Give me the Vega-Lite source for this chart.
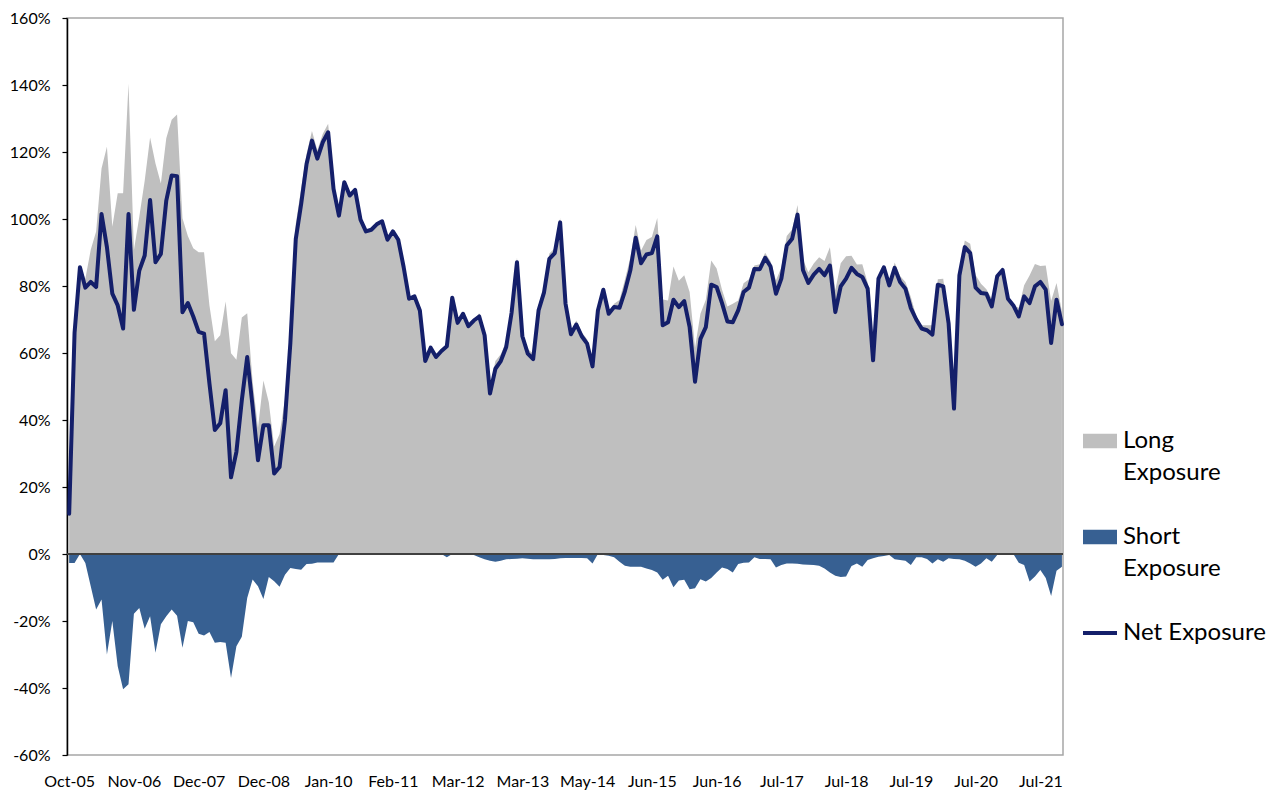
{
"$schema": "https://vega.github.io/schema/vega-lite/v6.json",
"autosize": {"type": "none"},
"padding": {"left": 67, "top": 18, "right": 211, "bottom": 35},
"width": 996,
"height": 737,
"background": "white",
"config": {"view": {"stroke": "#A6A6A6", "strokeWidth": 1.5}, "font": "Lato"},
"data": {"values": [
{"i":0,"long":14.7,"short":-2.7,"net":12.0},{"i":1,"long":68.7,"short":-2.7,"net":66.0},{"i":2,"long":85.6,"short":0,"net":85.6},{"i":3,"long":82.2,"short":-2.7,"net":79.5},{"i":4,"long":90.8,"short":-9.6,"net":81.2},{"i":5,"long":96.3,"short":-16.6,"net":79.7},{"i":6,"long":115.1,"short":-13.6,"net":101.5},{"i":7,"long":121.6,"short":-30,"net":91.6},{"i":8,"long":97.7,"short":-20,"net":77.7},{"i":9,"long":107.7,"short":-33.5,"net":74.2},
{"i":10,"long":107.7,"short":-40.4,"net":67.3},{"i":11,"long":140.4,"short":-38.9,"net":101.5},{"i":12,"long":90.7,"short":-17.8,"net":72.9},{"i":13,"long":100.7,"short":-16.1,"net":84.6},{"i":14,"long":111.4,"short":-22.3,"net":89.1},{"i":15,"long":124.3,"short":-18.6,"net":105.7},{"i":16,"long":116.6,"short":-29.5,"net":87.1},{"i":17,"long":110.6,"short":-21,"net":89.6},{"i":18,"long":124.1,"short":-18.6,"net":105.5},{"i":19,"long":129.6,"short":-16.6,"net":113.0},
{"i":20,"long":131.2,"short":-18.4,"net":112.8},{"i":21,"long":100.2,"short":-28,"net":72.2},{"i":22,"long":94.9,"short":-20,"net":74.9},{"i":23,"long":91.3,"short":-20.4,"net":70.9},{"i":24,"long":90.1,"short":-23.8,"net":66.3},{"i":25,"long":90.1,"short":-24.3,"net":65.8},{"i":26,"long":74.2,"short":-23.3,"net":50.9},{"i":27,"long":63.5,"short":-26.5,"net":37.0},{"i":28,"long":65.3,"short":-26.3,"net":39.0},{"i":29,"long":75.4,"short":-26.5,"net":48.9},
{"i":30,"long":59.9,"short":-37,"net":22.9},{"i":31,"long":58.0,"short":-27.5,"net":30.5},{"i":32,"long":70.6,"short":-24.7,"net":45.9},{"i":33,"long":71.9,"short":-13.1,"net":58.8},{"i":34,"long":51.6,"short":-7.6,"net":44.0},{"i":35,"long":37.6,"short":-9.6,"net":28.0},{"i":36,"long":51.8,"short":-13.4,"net":38.4},{"i":37,"long":45.3,"short":-6.9,"net":38.4},{"i":38,"long":32.1,"short":-8.1,"net":24.0},{"i":39,"long":35.8,"short":-9.8,"net":26.0},
{"i":40,"long":46.2,"short":-6.2,"net":40.0},{"i":41,"long":67.2,"short":-4.2,"net":63.0},{"i":42,"long":98.5,"short":-4.5,"net":94.0},{"i":43,"long":109.2,"short":-4.7,"net":104.5},{"i":44,"long":119.4,"short":-3,"net":116.4},{"i":45,"long":126.3,"short":-2.9,"net":123.4},{"i":46,"long":120.5,"short":-2.5,"net":118.0},{"i":47,"long":125.4,"short":-2.5,"net":122.9},{"i":48,"long":128.4,"short":-2.5,"net":125.9},{"i":49,"long":111.5,"short":-2.5,"net":109.0},
{"i":50,"long":101.0,"short":0,"net":101.0},{"i":51,"long":111.0,"short":0,"net":111.0},{"i":52,"long":107.0,"short":0,"net":107.0},{"i":53,"long":108.7,"short":0,"net":108.7},{"i":54,"long":99.8,"short":0,"net":99.8},{"i":55,"long":96.3,"short":0,"net":96.3},{"i":56,"long":96.8,"short":0,"net":96.8},{"i":57,"long":98.4,"short":0,"net":98.4},{"i":58,"long":99.3,"short":0,"net":99.3},{"i":59,"long":93.8,"short":0,"net":93.8},
{"i":60,"long":96.3,"short":0,"net":96.3},{"i":61,"long":93.8,"short":0,"net":93.8},{"i":62,"long":85.6,"short":0,"net":85.6},{"i":63,"long":76.2,"short":0,"net":76.2},{"i":64,"long":76.9,"short":0,"net":76.9},{"i":65,"long":72.7,"short":0,"net":72.7},{"i":66,"long":57.6,"short":0,"net":57.6},{"i":67,"long":61.6,"short":0,"net":61.6},{"i":68,"long":58.8,"short":0,"net":58.8},{"i":69,"long":60.6,"short":0,"net":60.6},
{"i":70,"long":63.0,"short":-1,"net":62.0},{"i":71,"long":76.5,"short":0,"net":76.5},{"i":72,"long":69.0,"short":0,"net":69.0},{"i":73,"long":71.7,"short":0,"net":71.7},{"i":74,"long":68.0,"short":0,"net":68.0},{"i":75,"long":70.0,"short":-0.3,"net":69.7},{"i":76,"long":71.9,"short":-1,"net":70.9},{"i":77,"long":66.9,"short":-1.6,"net":65.3},{"i":78,"long":49.9,"short":-2,"net":47.9},{"i":79,"long":57.6,"short":-2.3,"net":55.3},
{"i":80,"long":59.6,"short":-2,"net":57.6},{"i":81,"long":63.4,"short":-1.6,"net":61.8},{"i":82,"long":73.5,"short":-1.5,"net":72.0},{"i":83,"long":88.5,"short":-1.4,"net":87.1},{"i":84,"long":66.3,"short":-1.3,"net":65.0},{"i":85,"long":61.2,"short":-1.4,"net":59.8},{"i":86,"long":59.8,"short":-1.6,"net":58.2},{"i":87,"long":74.3,"short":-1.6,"net":72.7},{"i":88,"long":79.6,"short":-1.6,"net":78.0},{"i":89,"long":89.7,"short":-1.6,"net":88.1},
{"i":90,"long":91.3,"short":-1.5,"net":89.8},{"i":91,"long":100.3,"short":-1.3,"net":99.0},{"i":92,"long":75.9,"short":-1.2,"net":74.7},{"i":93,"long":66.8,"short":-1.2,"net":65.6},{"i":94,"long":69.7,"short":-1.2,"net":68.5},{"i":95,"long":66.2,"short":-1.2,"net":65.0},{"i":96,"long":64.1,"short":-1.3,"net":62.8},{"i":97,"long":58.8,"short":-2.8,"net":56.0},{"i":98,"long":72.7,"short":0,"net":72.7},{"i":99,"long":79.2,"short":-0.3,"net":78.9},
{"i":100,"long":72.2,"short":-0.5,"net":71.7},{"i":101,"long":74.7,"short":-1,"net":73.7},{"i":102,"long":75.8,"short":-2.3,"net":73.5},{"i":103,"long":81.9,"short":-3.5,"net":78.4},{"i":104,"long":88.4,"short":-3.8,"net":84.6},{"i":105,"long":98.2,"short":-3.8,"net":94.4},{"i":106,"long":90.6,"short":-3.8,"net":86.8},{"i":107,"long":93.7,"short":-4.3,"net":89.4},{"i":108,"long":94.6,"short":-4.8,"net":89.8},{"i":109,"long":100.3,"short":-5.5,"net":94.8},
{"i":110,"long":76.0,"short":-7.7,"net":68.3},{"i":111,"long":75.7,"short":-6.5,"net":69.2},{"i":112,"long":85.8,"short":-9.9,"net":75.9},{"i":113,"long":81.6,"short":-7.9,"net":73.7},{"i":114,"long":83.2,"short":-7.7,"net":75.5},{"i":115,"long":78.2,"short":-10.5,"net":67.7},{"i":116,"long":61.6,"short":-10.2,"net":51.4},{"i":117,"long":71.7,"short":-7.5,"net":64.2},{"i":118,"long":75.9,"short":-8.2,"net":67.7},{"i":119,"long":87.6,"short":-7.2,"net":80.4},
{"i":120,"long":85.2,"short":-5.5,"net":79.7},{"i":121,"long":78.9,"short":-4,"net":74.9},{"i":122,"long":73.9,"short":-4.5,"net":69.4},{"i":123,"long":74.7,"short":-5.5,"net":69.2},{"i":124,"long":75.7,"short":-3,"net":72.7},{"i":125,"long":80.8,"short":-2.6,"net":78.2},{"i":126,"long":82.0,"short":-2.5,"net":79.5},{"i":127,"long":86.1,"short":-1,"net":85.1},{"i":128,"long":86.5,"short":-1.5,"net":85.0},{"i":129,"long":89.9,"short":-1.5,"net":88.4},
{"i":130,"long":87.4,"short":-1.6,"net":85.8},{"i":131,"long":81.7,"short":-4,"net":77.7},{"i":132,"long":85.5,"short":-3.3,"net":82.2},{"i":133,"long":94.9,"short":-2.8,"net":92.1},{"i":134,"long":96.9,"short":-2.8,"net":94.1},{"i":135,"long":104.2,"short":-2.9,"net":101.3},{"i":136,"long":87.9,"short":-3.1,"net":84.8},{"i":137,"long":84.1,"short":-3.2,"net":80.9},{"i":138,"long":86.7,"short":-3.3,"net":83.4},{"i":139,"long":88.6,"short":-3.5,"net":85.1},
{"i":140,"long":87.5,"short":-4.3,"net":83.2},{"i":141,"long":91.6,"short":-5.5,"net":86.1},{"i":142,"long":78.7,"short":-6.5,"net":72.2},{"i":143,"long":86.8,"short":-6.9,"net":79.9},{"i":144,"long":88.9,"short":-6.7,"net":82.2},{"i":145,"long":89.0,"short":-3.6,"net":85.4},{"i":146,"long":86.4,"short":-2.8,"net":83.6},{"i":147,"long":86.5,"short":-3.8,"net":82.7},{"i":148,"long":81.0,"short":-1.8,"net":79.2},{"i":149,"long":59.1,"short":-1.3,"net":57.8},
{"i":150,"long":83.0,"short":-0.8,"net":82.2},{"i":151,"long":86.2,"short":-0.6,"net":85.6},{"i":152,"long":80.5,"short":-0.3,"net":80.2},{"i":153,"long":87.0,"short":-1.6,"net":85.4},{"i":154,"long":83.0,"short":-1.8,"net":81.2},{"i":155,"long":81.2,"short":-2,"net":79.2},{"i":156,"long":76.7,"short":-3.3,"net":73.4},{"i":157,"long":71.0,"short":-1,"net":70.0},{"i":158,"long":68.3,"short":-1,"net":67.3},{"i":159,"long":68.3,"short":-1.5,"net":66.8},
{"i":160,"long":68.3,"short":-2.8,"net":65.5},{"i":161,"long":82.0,"short":-1.6,"net":80.4},{"i":162,"long":82.2,"short":-2.3,"net":79.9},{"i":163,"long":70.1,"short":-1.3,"net":68.8},{"i":164,"long":44.9,"short":-1.5,"net":43.4},{"i":165,"long":84.8,"short":-1.6,"net":83.2},{"i":166,"long":93.6,"short":-2,"net":91.6},{"i":167,"long":92.6,"short":-2.8,"net":89.8},{"i":168,"long":83.3,"short":-3.8,"net":79.5},{"i":169,"long":80.7,"short":-2.8,"net":77.9},
{"i":170,"long":79.0,"short":-1.3,"net":77.7},{"i":171,"long":76.2,"short":-2.3,"net":73.9},{"i":172,"long":83.2,"short":-0.3,"net":82.9},{"i":173,"long":84.8,"short":0,"net":84.8},{"i":174,"long":76.2,"short":0,"net":76.2},{"i":175,"long":74.2,"short":0,"net":74.2},{"i":176,"long":73.5,"short":-2.6,"net":70.9},{"i":177,"long":80.2,"short":-3.3,"net":76.9},{"i":178,"long":83.1,"short":-8.2,"net":74.9},{"i":179,"long":86.6,"short":-6.7,"net":79.9},
{"i":180,"long":86.0,"short":-4.8,"net":81.2},{"i":181,"long":86.1,"short":-7.2,"net":78.9},{"i":182,"long":75.5,"short":-12.5,"net":63.0},{"i":183,"long":80.9,"short":-5,"net":75.9},{"i":184,"long":72.4,"short":-3.8,"net":68.6}
]},
"encoding": {
  "x": {"field": "i", "type": "quantitative",
    "scale": {"domain": [-0.4, 184.2], "nice": false, "zero": false},
    "axis": {"title": null, "grid": false, "domain": false, "ticks": false, "tickSize": 0,
      "values": [0,12,24,36,48,60,72,84,96,108,120,132,144,156,168,180],
      "labelExpr": "['Oct-05','Nov-06','Dec-07','Dec-08','Jan-10','Feb-11','Mar-12','Mar-13','May-14','Jun-15','Jun-16','Jul-17','Jul-18','Jul-19','Jul-20','Jul-21'][round(datum.value/12)]",
      "labelFont": "Lato", "labelFontSize": 16, "labelColor": "#000000", "labelPadding": 18, "labelBaseline": "top", "labelFlush": false, "labelOverlap": false, "labelBound": false}}
},
"layer": [
  {"mark": {"type": "area", "opacity": 1, "interpolate": "linear"},
   "encoding": {
     "y": {"field": "long", "type": "quantitative",
       "scale": {"domain": [-60, 160], "nice": false, "zero": false},
       "axis": {"title": null, "grid": false, "values": [-60,-40,-20,0,20,40,60,80,100,120,140,160],
         "labelExpr": "datum.value + '%'", "labelFont": "Lato", "labelFontSize": 16, "labelColor": "#000000",
         "domainColor": "#000000", "domainWidth": 1.5, "tickColor": "#000000", "tickSize": 5, "tickWidth": 1.2, "labelPadding": 12}},
     "y2": {"datum": 0},
     "color": {"datum": "Long Exposure", "type": "nominal",
       "scale": {"domain": ["Long Exposure", "Short Exposure", "Net Exposure"], "range": ["#BFBFBF", "#376092", "#141F6A"]},
       "legend": {"title": null, "orient": "none", "legendX": 1021, "legendY": 411, "padding": 0,
         "symbolSize": 1156, "labelFont": "Lato", "labelFontSize": 24, "labelColor": "#000000", "labelLimit": 400,
         "labelOffset": 11, "rowPadding": 40, "symbolOpacity": 1,
         "labelExpr": "datum.label === 'Net Exposure' ? datum.label : split(datum.label, ' ')",
         "encode": {
           "labels": {"update": {"lineHeight": {"value": 32}}},
           "symbols": {"update": {
             "shape": {"signal": "datum.value === 'Net Exposure' ? 'M-1,0H1' : 'M-1,-0.42H1V0.42H-1Z'"},
             "fill": {"signal": "datum.value === 'Net Exposure' ? 'transparent' : scale('color', datum.value)"},
             "stroke": {"signal": "scale('color', datum.value)"},
             "strokeWidth": {"signal": "datum.value === 'Net Exposure' ? 4 : 0"},
             "opacity": {"value": 1}
           }}
         }}}
   }},
  {"mark": {"type": "area", "opacity": 1, "interpolate": "linear"},
   "encoding": {
     "y": {"field": "short", "type": "quantitative"},
     "y2": {"datum": 0},
     "color": {"datum": "Short Exposure", "type": "nominal"}
   }},
  {"mark": {"type": "rule", "color": "#404040", "strokeWidth": 1.5},
   "encoding": {"y": {"datum": 0}, "x": null}},
  {"mark": {"type": "line", "strokeWidth": 4, "strokeJoin": "round", "strokeCap": "round", "interpolate": "linear"},
   "encoding": {
     "y": {"field": "net", "type": "quantitative"},
     "color": {"datum": "Net Exposure", "type": "nominal"}
   }}
]
}
